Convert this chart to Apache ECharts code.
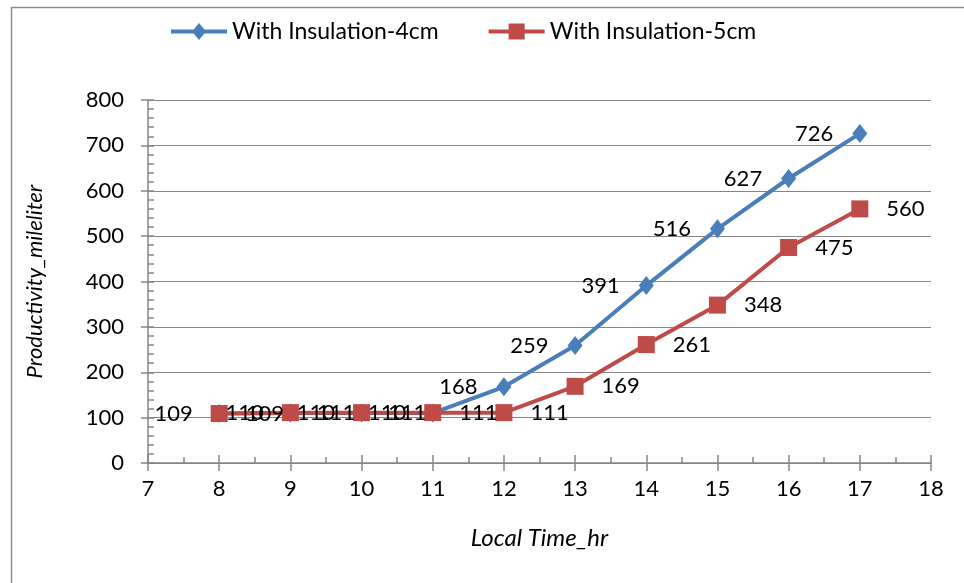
<!DOCTYPE html>
<html><head><meta charset="utf-8">
<script src="https://cdn.jsdelivr.net/npm/echarts@6/dist/echarts.min.js"></script>
<style>html,body{margin:0;padding:0;background:#fff}#c{width:964px;height:583px}</style>
</head><body><div id="c"></div>
<script>
const hours = [8, 9, 10, 11, 12, 13, 14, 15, 16, 17];
const insul4cm = [109, 110, 110, 110, 168, 259, 391, 516, 627, 726];
const insul5cm = [109, 111, 111, 111, 111, 169, 261, 348, 475, 560];
const seriesNames = ['With Insulation-4cm', 'With Insulation-5cm'];
const xTitle = 'Local Time_hr';
const yTitle = 'Productivity_mileliter';

const FONT = 'Lato';
const axisGray = '#868686';
const BLUE = '#4A7EBB', RED = '#BE4B48';
const pairs = (ys) => hours.map((h, i) => [h, ys[i]]);
const ICON_DIAMOND = 'path://M0,6.5L56,6.5L56,10.5L0,10.5Z M28,0L35,8.5L28,17L21,8.5Z';
const ICON_SQUARE = 'path://M0,6.5L56,6.5L56,10.5L0,10.5Z M20,0.5L36,0.5L36,16.5L20,16.5Z';

const chart = echarts.init(document.getElementById('c'), null, {renderer: 'canvas'});
chart.setOption({
  animation: false,
  textStyle: {fontFamily: FONT},
  graphic: [{
    type: 'rect', left: 9, top: 5, silent: true, z: -1,
    shape: {width: 1000, height: 1000},
    style: {fill: 'none', stroke: '#8c8c8c', lineWidth: 1.5}
  }],
  legend: {
    top: 15, left: 166,
    itemWidth: 56, itemHeight: 17, itemGap: 50,
    textStyle: {fontSize: 23, color: '#000', fontFamily: FONT},
    data: [
      {name: seriesNames[0], icon: ICON_DIAMOND, itemStyle: {color: BLUE}},
      {name: seriesNames[1], icon: ICON_SQUARE, itemStyle: {color: RED}}
    ]
  },
  grid: {left: 148, right: 33, top: 100, bottom: 120},
  xAxis: [{
    type: 'value', min: 7, max: 18, interval: 1,
    name: xTitle, nameLocation: 'middle', nameGap: 63,
    nameTextStyle: {fontSize: 24, fontStyle: 'italic', color: '#000', fontFamily: FONT},
    axisLine: {show: true, lineStyle: {color: axisGray, width: 1.5}},
    axisTick: {show: true, inside: false, length: 8, lineStyle: {color: axisGray, width: 1.5}},
    axisLabel: {fontSize: 22, color: '#000', margin: 15, fontFamily: FONT},
    splitLine: {show: false}
  }, {
    type: 'value', min: 7, max: 18, interval: 0.5, position: 'bottom',
    axisLine: {show: false},
    axisTick: {show: true, inside: true, length: 6, lineStyle: {color: axisGray, width: 1.5}},
    axisLabel: {show: false}, splitLine: {show: false}
  }, {
    type: 'value', min: 7, max: 18, interval: 1, position: 'bottom',
    axisLine: {show: false},
    axisTick: {show: true, inside: true, length: 8, lineStyle: {color: axisGray, width: 1.5}},
    axisLabel: {show: false}, splitLine: {show: false}
  }],
  yAxis: [{
    type: 'value', min: 0, max: 800, interval: 100,
    name: yTitle, nameLocation: 'middle', nameGap: 102, nameRotate: 90,
    nameTextStyle: {fontSize: 22, fontStyle: 'italic', color: '#000', fontFamily: FONT},
    axisLine: {show: true, lineStyle: {color: axisGray, width: 1.5}},
    axisTick: {show: true, inside: false, length: 7, lineStyle: {color: axisGray, width: 1.5}},
    axisLabel: {fontSize: 22, color: '#000', margin: 24, fontFamily: FONT},
    splitLine: {show: true, lineStyle: {color: axisGray, width: 1.2}}
  }, {
    type: 'value', min: 0, max: 800, interval: 20, position: 'left',
    axisLine: {show: false},
    axisTick: {show: true, inside: true, length: 6, lineStyle: {color: axisGray, width: 1.5}},
    axisLabel: {show: false}, splitLine: {show: false}
  }],
  series: [{
    name: seriesNames[0], type: 'line', xAxisIndex: 0, yAxisIndex: 0,
    data: pairs(insul4cm),
    symbol: 'diamond', symbolSize: [15, 19],
    lineStyle: {color: BLUE, width: 4},
    itemStyle: {color: BLUE},
    label: {show: true, position: 'left', distance: 19, fontSize: 22, color: '#000', fontFamily: FONT}
  }, {
    name: seriesNames[1], type: 'line', xAxisIndex: 0, yAxisIndex: 0,
    data: pairs(insul5cm),
    symbol: 'rect', symbolSize: 17,
    lineStyle: {color: RED, width: 4},
    itemStyle: {color: RED},
    label: {show: true, position: 'right', distance: 18, fontSize: 22, color: '#000', fontFamily: FONT}
  }]
});
</script></body></html>
